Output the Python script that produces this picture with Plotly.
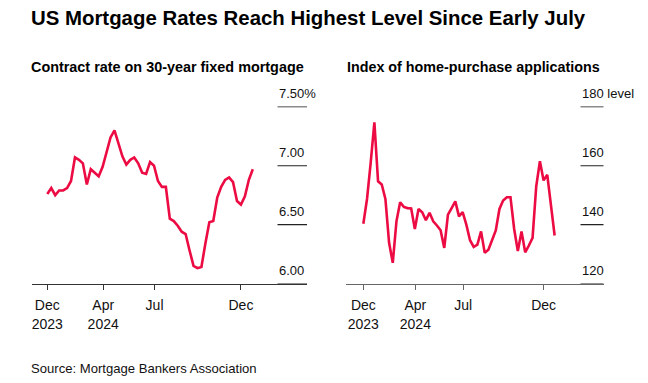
import pandas as pd
import plotly.graph_objects as go

# ---- data ----
dates = pd.date_range("2023-12-24", periods=53, freq="7D")

rate = [6.76, 6.81, 6.75, 6.79, 6.79, 6.81, 6.87, 7.07, 7.05, 7.02,
        6.84, 6.97, 6.94, 6.91, 6.99, 7.12, 7.24, 7.30, 7.18, 7.08,
        7.01, 7.05, 7.07, 7.02, 6.94, 6.93, 7.03, 7.00, 6.87, 6.82,
        6.82, 6.55, 6.53, 6.49, 6.44, 6.42, 6.28, 6.15, 6.13, 6.14,
        6.34, 6.52, 6.53, 6.73, 6.82, 6.88, 6.90, 6.86, 6.70, 6.67,
        6.74, 6.88, 6.97]

purchase = [140.3, 148.7, 161.0, 174.7, 154.7, 153.6, 148.7, 133.8, 127.0, 141.1,
            147.6, 146.0, 145.6, 145.5, 138.5, 145.3, 144.2, 141.5, 144.0, 141.1,
            139.7, 138.1, 132.1, 143.4, 145.6, 147.9, 142.8, 144.2, 140.0, 134.7,
            132.4, 133.2, 137.7, 130.4, 131.5, 134.9, 138.0, 145.3, 148.2, 149.3,
            149.3, 138.5, 131.0, 137.7, 130.6, 132.9, 135.5, 153.0, 161.5, 155.0,
            156.9, 146.6, 136.3]

x_tickvals = ["2023-12-24", "2024-04-01", "2024-07-01", "2024-12-01"]
x_ticktext = ["Dec<br>2023", "Apr<br>2024", "Jul", "Dec"]

rate_ticks = [6.0, 6.5, 7.0, 7.5]
rate_labels = ["6.00", "6.50", "7.00", "7.50%"]
purch_ticks = [120, 140, 160, 180]
purch_labels = ["120", "140", "160", "180 level"]

title = "US Mortgage Rates Reach Highest Level Since Early July"
sub_left = "Contract rate on 30-year fixed mortgage"
sub_right = "Index of home-purchase applications"
source = "Source: Mortgage Bankers Association"

# ---- styling / geometry (page has an 8px body margin) ----
OX, OY = 8, 8
W, H = 648 - OX, 383 - OY
RED = "#ec0b43"
FONT = "Liberation Sans, Arial, sans-serif"


def px(xp):
    return (xp - OX) / W


def py(yp):
    return 1 - (yp - OY) / H


fig = go.Figure()
fig.add_trace(go.Scatter(x=dates, y=rate, mode="lines", xaxis="x", yaxis="y",
                         line=dict(color=RED, width=2.6), hoverinfo="skip"))
fig.add_trace(go.Scatter(x=dates, y=purchase, mode="lines", xaxis="x2", yaxis="y2",
                         line=dict(color=RED, width=2.6), hoverinfo="skip"))

ydom = [py(283.5), py(95)]

xcommon = dict(type="date", showgrid=False, zeroline=False, showline=True,
               linewidth=1, ticks="outside", ticklen=5, tickwidth=1,
               ticklabelstandoff=4,
               tickvals=x_tickvals, ticktext=x_ticktext,
               tickfont=dict(family=FONT, size=14, color="#111"))

fig.update_layout(
    width=W, height=H,
    margin=dict(l=0, r=0, t=0, b=0),
    paper_bgcolor="white", plot_bgcolor="white",
    showlegend=False,
    xaxis=dict(domain=[px(31.5), px(307)], range=["2023-11-26", "2025-03-28"],
               linecolor="#333", tickcolor="#333", anchor="y", **xcommon),
    yaxis=dict(domain=ydom, range=[6.0, 7.6], visible=False, anchor="x"),
    xaxis2=dict(domain=[px(346), px(603.5)], range=["2023-11-21", "2025-03-25"],
                linecolor="#666", tickcolor="#666", anchor="y2", **xcommon),
    yaxis2=dict(domain=ydom, range=[120, 184], visible=False, anchor="x2"),
)

shapes = []
annotations = []


def add_axis_labels(yref, ticks, labels, x_left_px, x0_px, x1_px):
    for v, lab in zip(ticks, labels):
        top = (lab == labels[-1])
        shapes.append(dict(type="line", xref="paper", yref=yref,
                           x0=px(x0_px), x1=px(x1_px), y0=v, y1=v,
                           line=dict(color="#8a8a8a" if top else "#222",
                                     width=1.6 if top else 1.1)))
        annotations.append(dict(xref="paper", yref=yref, x=px(x_left_px), y=v,
                                text=lab, showarrow=False, xanchor="left",
                                yanchor="middle", yshift=13,
                                font=dict(family=FONT, size=13, color="#111")))


add_axis_labels("y", rate_ticks, rate_labels, 276.5, 277.5, 307)
add_axis_labels("y2", purch_ticks, purch_labels, 579.5, 580.5, 603.5)

annotations.append(dict(xref="paper", yref="paper", x=px(29), y=py(18),
                        text="<b>" + title + "</b>", showarrow=False,
                        xanchor="left", yanchor="middle",
                        font=dict(family=FONT, size=20.4, color="#000")))
annotations.append(dict(xref="paper", yref="paper", x=px(29), y=py(67),
                        text="<b>" + sub_left + "</b>", showarrow=False,
                        xanchor="left", yanchor="middle",
                        font=dict(family=FONT, size=14.4, color="#000")))
annotations.append(dict(xref="paper", yref="paper", x=px(345), y=py(67),
                        text="<b>" + sub_right + "</b>", showarrow=False,
                        xanchor="left", yanchor="middle",
                        font=dict(family=FONT, size=14.3, color="#000")))
annotations.append(dict(xref="paper", yref="paper", x=px(29), y=py(368),
                        text=source, showarrow=False,
                        xanchor="left", yanchor="middle",
                        font=dict(family=FONT, size=13.1, color="#111")))

fig.update_layout(shapes=shapes, annotations=annotations)

fig.write_html("out.html", config={"displayModeBar": False})
